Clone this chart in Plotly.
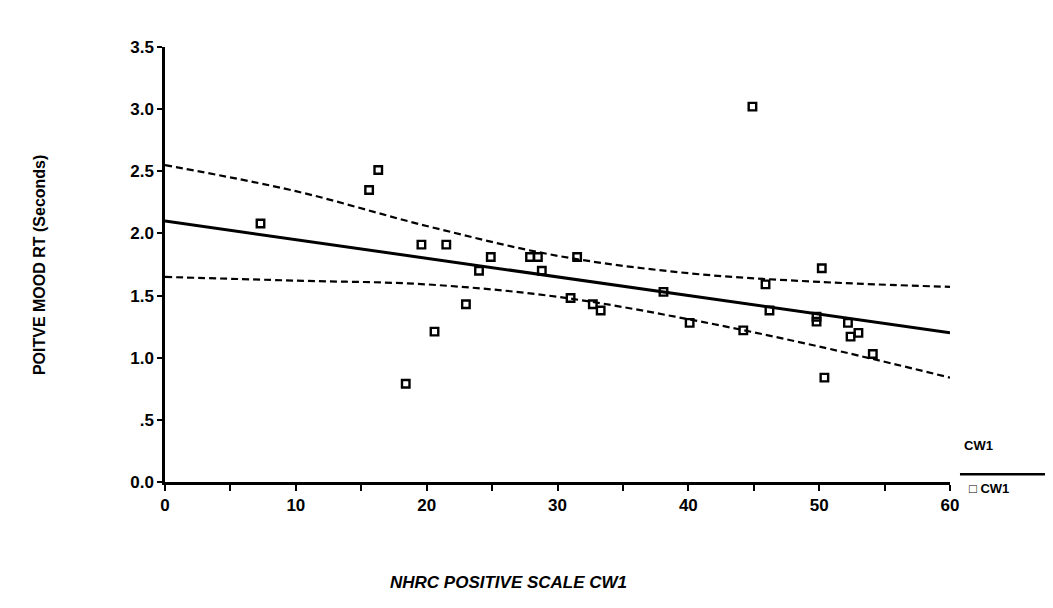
import plotly.graph_objects as go

# Scatter data (NHRC positive scale vs positive mood RT)
cw1_x = [7.3, 15.6, 16.3, 19.6, 21.5, 24.9, 27.9, 28.5, 24.0, 28.8, 23.0, 20.6, 18.4,
         44.9, 31.5, 50.2, 45.9, 38.1, 31.0, 32.7, 33.3, 46.2, 49.8, 49.8, 52.2,
         52.4, 53.0, 40.1, 44.2, 54.1, 50.4]
rt_y = [2.08, 2.35, 2.51, 1.91, 1.91, 1.81, 1.81, 1.81, 1.70, 1.70, 1.43, 1.21, 0.79,
        3.02, 1.81, 1.72, 1.59, 1.53, 1.48, 1.43, 1.38, 1.38, 1.33, 1.29, 1.28,
        1.17, 1.20, 1.28, 1.22, 1.03, 0.84]

# Fit line and confidence band
line_x = [0, 10, 20, 30, 40, 50, 60]
fit_y = [2.10, 1.95, 1.80, 1.65, 1.50, 1.35, 1.20]
upper_y = [2.55, 2.34, 2.06, 1.82, 1.68, 1.61, 1.57]
lower_y = [1.65, 1.62, 1.59, 1.49, 1.31, 1.09, 0.84]

x_ticks = [0, 10, 20, 30, 40, 50, 60]
y_ticks = [0, 0.5, 1.0, 1.5, 2.0, 2.5, 3.0, 3.5]
y_tick_text = ["0.0", ".5", "1.0", "1.5", "2.0", "2.5", "3.0", "3.5"]

FONT = "Liberation Sans"

fig = go.Figure()
fig.add_trace(go.Scatter(x=line_x, y=upper_y, mode="lines", line_shape="spline",
                         line=dict(color="black", width=2.2, dash="7px,4px"), showlegend=False))
fig.add_trace(go.Scatter(x=line_x, y=lower_y, mode="lines", line_shape="spline",
                         line=dict(color="black", width=2.2, dash="7px,4px"), showlegend=False))
fig.add_trace(go.Scatter(x=line_x, y=fit_y, mode="lines",
                         line=dict(color="black", width=3), showlegend=False))
fig.add_trace(go.Scatter(x=cw1_x, y=rt_y, mode="markers",
                         marker=dict(symbol="square-open", size=7.5, color="black",
                                     line=dict(width=2.4, color="black")),
                         showlegend=False))

fig.update_layout(
    width=1045, height=600,
    margin=dict(l=157, r=103, t=39, b=126),
    paper_bgcolor="white", plot_bgcolor="white",
    font=dict(family=FONT, color="black"),
    xaxis=dict(range=[0, 60], tickvals=x_ticks, ticks="outside", ticklen=6, tickwidth=2,
               tickcolor="black", showline=True, linecolor="black", linewidth=2.5,
               showgrid=False, zeroline=False, automargin=False,
               tickfont=dict(family=FONT, size=17, weight="bold"),
               minor=dict(dtick=5, ticks="outside", ticklen=6, tickwidth=2, tickcolor="black")),
    yaxis=dict(range=[0, 3.5], tickvals=y_ticks, ticktext=y_tick_text, ticks="outside",
               ticklen=5, tickwidth=2, tickcolor="black", showline=True, linecolor="black",
               linewidth=2.5, showgrid=False, zeroline=False, automargin=False,
               tickfont=dict(family=FONT, size=17, weight="bold")),
)

# axis titles
fig.add_annotation(xref="paper", yref="paper", x=-0.159, y=0.499, textangle=-90,
                   xanchor="center", yanchor="middle",
                   showarrow=False, text="POITVE MOOD RT (Seconds)",
                   font=dict(family=FONT, size=16, weight="bold"))
fig.add_annotation(xref="paper", yref="paper", x=0.438, y=-0.23,
                   xanchor="center", yanchor="middle", showarrow=False,
                   text="<i>NHRC POSITIVE SCALE CW1</i>",
                   font=dict(family=FONT, size=17, weight="bold"))

# legend block (SPSS style)
fig.add_annotation(xref="paper", yref="paper", x=1.0153, y=0.085, xanchor="left",
                   yanchor="middle", showarrow=False, text="CW1",
                   font=dict(family=FONT, size=13, weight="bold"))
fig.add_shape(type="line", xref="paper", yref="paper", x0=1.0127, x1=1.13, y0=0.018, y1=0.018,
              line=dict(color="black", width=2.5))
fig.add_annotation(xref="paper", yref="paper", x=1.0217, y=-0.014, xanchor="left",
                   yanchor="middle", showarrow=False, text="\u25a1 CW1",
                   font=dict(family=FONT, size=13, weight="bold"))

fig.write_html("out.html")
